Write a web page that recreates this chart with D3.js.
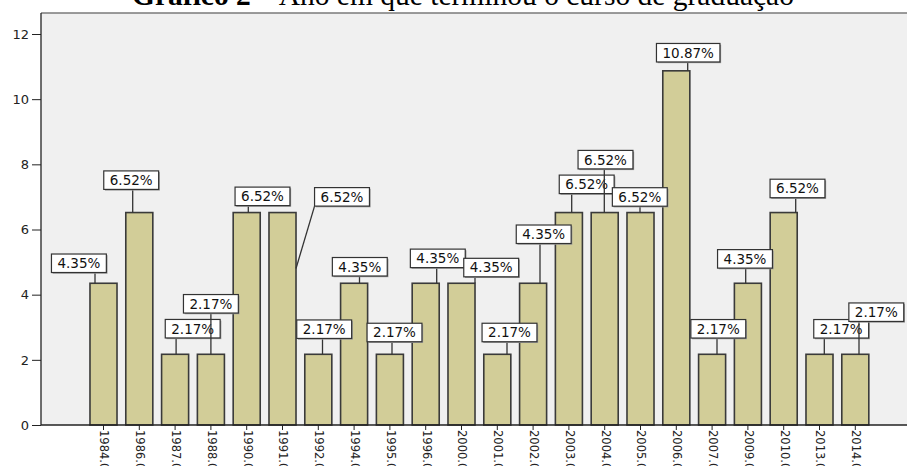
<!DOCTYPE html>
<html>
<head>
<meta charset="utf-8">
<script src="https://cdn.jsdelivr.net/npm/d3@7"></script>
<style>
  body { margin: 0; background: #fff; }
  .tick text { font-family: "DejaVu Sans", sans-serif; fill: #222; }
  .lbl text { font-family: "DejaVu Sans", sans-serif; font-size: 13.5px; fill: #111; }
</style>
</head>
<body>
<div id="chart"></div>
<script>
// categories (year of graduation) and percentages
var years = ["1984.00", "1986.00", "1987.00", "1988.00", "1990.00", "1991.00", "1992.00",
  "1994.00", "1995.00", "1996.00", "2000.00", "2001.00", "2002.00", "2003.00", "2004.00",
  "2005.00", "2006.00", "2007.00", "2009.00", "2010.00", "2013.00", "2014.00"];
var percents = [4.35, 6.52, 2.17, 2.17, 6.52, 6.52, 2.17, 4.35, 2.17, 4.35, 4.35,
  2.17, 4.35, 6.52, 6.52, 6.52, 10.87, 2.17, 4.35, 6.52, 2.17, 2.17];
var yTicks = [0, 2, 4, 6, 8, 10, 12];

// label placement: box centre and connector end, relative to the bar's top centre
var labelPlace = [
  [-24.6, -20, -8.5, 0], [-8.1, -32.4, -6.6, 0], [17.6, -25.6, 1, 0], [0, -50.5, 0, 0],
  [15.8, -16.2, 1.6, 0], [59.5, -15.7, 13.5, 55.9], [5.9, -25.1, 4.2, 0], [5.7, -16.5, 5.4, 0],
  [4.6, -21.8, 2.1, 0], [12.1, -24.9, 11, 0], [29.7, -15.7, 13.5, 0], [12.2, -21.8, 9.7, 0],
  [10.6, -49, 6.9, 0], [17.8, -28.2, 2.8, 0], [0.8, -52.9, -0.4, 0], [-0.7, -15.6, -0.5, 0],
  [11.9, -18.1, 11.4, 0], [6.2, -25.5, 4.9, 0], [-2.9, -24.4, -2.2, 0], [13.8, -24.1, 12, 0],
  [21.7, -25.5, 4.8, 0], [21, -42.1, 3.7, 0]
];

var width = 907, height = 466;
var plot = { left: 41, top: 13, bottom: 425, right: 907 };

var svg = d3.select("#chart").append("svg")
  .attr("width", width)
  .attr("height", height);

var x = d3.scaleBand()
  .domain(years)
  .range([85.6, 873.2])
  .paddingInner(0.245)
  .paddingOuter(0.1225);

var y = d3.scaleLinear().domain([0, 12]).range([plot.bottom, 34]);

// plot background and frame
svg.append("rect")
  .attr("x", plot.left).attr("y", plot.top)
  .attr("width", plot.right - plot.left).attr("height", plot.bottom - plot.top)
  .attr("fill", "#f0f0f0");
svg.append("line")
  .attr("x1", plot.left).attr("x2", plot.right)
  .attr("y1", plot.top).attr("y2", plot.top)
  .attr("stroke", "#7a7a7a").attr("stroke-width", 1.5);

// title (cut off at the top of the picture)
var title = svg.append("text")
  .attr("x", 463).attr("y", 5)
  .attr("text-anchor", "middle")
  .style("font-family", "'Liberation Serif', 'Times New Roman', serif")
  .style("font-size", "29.5px")
  .attr("fill", "#000");
title.append("tspan").style("font-weight", "bold").text("Gráfico 2");
title.append("tspan").text(" – Ano em que terminou o curso de graduação");

// bars
svg.append("g")
  .selectAll("rect")
  .data(percents)
  .enter()
  .append("rect")
  .attr("x", function (d, i) { return x(years[i]); })
  .attr("y", function (d) { return y(d); })
  .attr("width", x.bandwidth())
  .attr("height", function (d) { return y(0) - y(d); })
  .attr("fill", "#d2cd98")
  .attr("stroke", "#3a3a3a")
  .attr("stroke-width", 1.6);

// y axis
var yAxis = svg.append("g")
  .attr("transform", "translate(" + plot.left + ",0)")
  .call(d3.axisLeft(y).tickValues(yTicks).tickSize(9).tickSizeOuter(0).tickPadding(3));
yAxis.select(".domain").remove();
yAxis.selectAll(".tick line").attr("stroke", "#222");
yAxis.selectAll(".tick text").style("font-size", "13px");
svg.append("line")
  .attr("x1", plot.left).attr("x2", plot.left)
  .attr("y1", plot.top).attr("y2", plot.bottom)
  .attr("stroke", "#222").attr("stroke-width", 1.3);

// x axis
var xAxis = svg.append("g")
  .attr("transform", "translate(0," + plot.bottom + ")")
  .call(d3.axisBottom(x).tickSize(5).tickSizeOuter(0));
xAxis.select(".domain").remove();
xAxis.selectAll(".tick line").attr("stroke", "#222");
xAxis.selectAll(".tick text")
  .style("font-size", "11.5px")
  .style("text-anchor", "start")
  .attr("transform", "rotate(90)")
  .attr("x", 5)
  .attr("y", -1)
  .attr("dy", "0.35em");
svg.append("line")
  .attr("x1", plot.left).attr("x2", plot.right)
  .attr("y1", plot.bottom).attr("y2", plot.bottom)
  .attr("stroke", "#222").attr("stroke-width", 1.3);

// value labels with connector lines
var labels = svg.append("g").attr("class", "lbl")
  .selectAll("g")
  .data(percents)
  .enter()
  .append("g");

labels.each(function (d, i) {
  var g = d3.select(this);
  var p = labelPlace[i];
  var bx = x(years[i]) + x.bandwidth() / 2;
  var by = y(d);
  var cx = bx + p[0], cy = by + p[1];
  var ex = bx + p[2], ey = by + p[3];

  var t = g.append("text")
    .attr("x", cx).attr("y", cy)
    .attr("dy", "0.36em")
    .attr("text-anchor", "middle")
    .text(d.toFixed(2) + "%");
  var w = t.node().getComputedTextLength() + 12;
  var h = 18.5;
  var left = cx - w / 2, top = cy - h / 2;
  var sx = Math.max(left, Math.min(left + w, ex));

  g.insert("line", "text")
    .attr("x1", sx).attr("y1", top + h)
    .attr("x2", ex).attr("y2", ey)
    .attr("stroke", "#333").attr("stroke-width", 1.3);
  g.insert("rect", "text")
    .attr("x", left + 1.2).attr("y", top + 1.2)
    .attr("width", w).attr("height", h)
    .attr("fill", "#9a9a9a");
  g.insert("rect", "text")
    .attr("x", left).attr("y", top)
    .attr("width", w).attr("height", h)
    .attr("fill", "#fff")
    .attr("stroke", "#333").attr("stroke-width", 1.2);
});
</script>
</body>
</html>
